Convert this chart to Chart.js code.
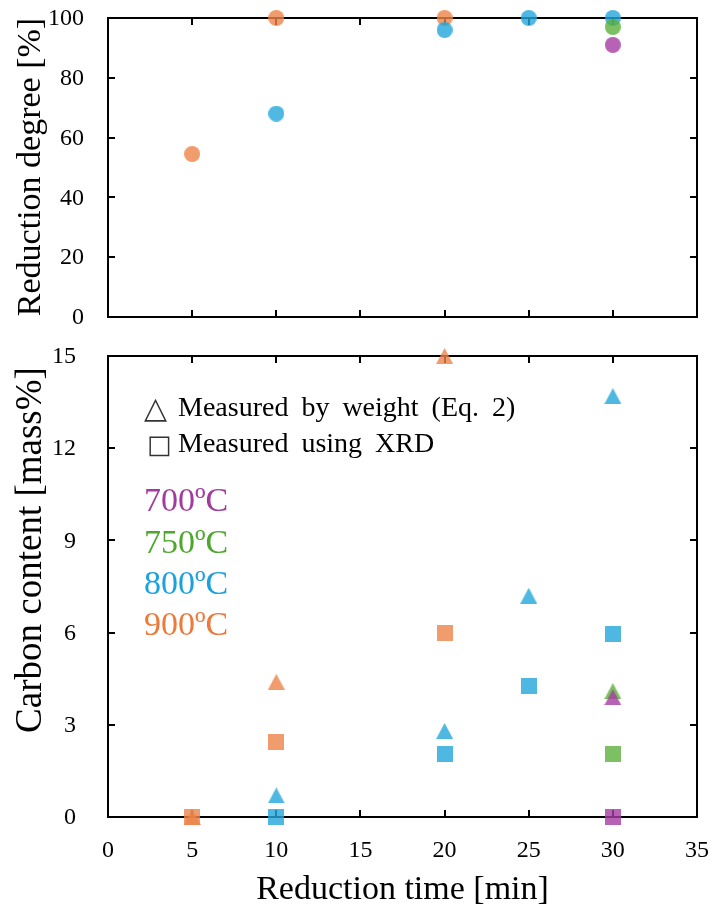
<!DOCTYPE html>
<html>
<head>
<meta charset="utf-8">
<script src="https://cdn.jsdelivr.net/npm/chart.js@4/dist/chart.umd.min.js"></script>
<style>
  html, body { margin: 0; padding: 0; background: #fff; }
  #wrap { position: relative; width: 711px; height: 911px; overflow: hidden; }
  canvas { position: absolute; left: 0; }
  #degreeChart { top: 0; }
  #carbonChart { top: 335px; }
</style>
</head>
<body>
<div id="wrap">
  <canvas id="degreeChart" width="711" height="335" style="width:711px;height:335px"></canvas>
  <canvas id="carbonChart" width="711" height="576" style="width:711px;height:576px"></canvas>
</div>
<script>
// ---- data ----
const temperatureLabels = ['700ºC', '750ºC', '800ºC', '900ºC'];

// reduction degree [%]
const degreeTime700 = [30];
const degree700 = [91];
const degreeTime750 = [30];
const degree750 = [97];
const degreeTime800 = [10, 20, 25, 30];
const degree800 = [68, 96, 100, 100];
const degreeTime900 = [5, 10, 20];
const degree900 = [54.5, 100, 100];

// carbon content measured by weight (Eq. 2) [mass%]
const weightTime700 = [30];
const weight700 = [3.9];
const weightTime750 = [30];
const weight750 = [4.1];
const weightTime800 = [10, 20, 25, 30];
const weight800 = [0.7, 2.8, 7.2, 13.7];
const weightTime900 = [5, 10, 20];
const weight900 = [0, 4.4, 15.0];

// carbon content measured using XRD [mass%]
const xrdTime700 = [30];
const xrd700 = [0];
const xrdTime750 = [30];
const xrd750 = [2.05];
const xrdTime800 = [10, 20, 25, 30];
const xrd800 = [0, 2.05, 4.25, 5.95];
const xrdTime900 = [5, 10, 20];
const xrd900 = [0, 2.45, 6.0];

// axis ticks
const timeTicks = [0, 5, 10, 15, 20, 25, 30, 35];
const degreeTicks = [0, 20, 40, 60, 80, 100];
const carbonTicks = [0, 3, 6, 9, 12, 15];

// ---- styles ----
const markerColors = ['rgba(166,59,163,0.8)', 'rgba(91,176,60,0.8)', 'rgba(35,166,219,0.8)', 'rgba(236,131,71,0.8)'];
const textColors = ['#A23AA0', '#4EA72E', '#1BA1DB', '#EC7A3A'];
const SERIF = '"Liberation Serif", "Times New Roman", serif';

function pts(xs, ys) { return xs.map((x, i) => ({ x, y: ys[i] })); }

function marker(shape, color, w, h) {
  const c = document.createElement('canvas');
  c.width = w; c.height = h;
  const g = c.getContext('2d');
  g.fillStyle = color;
  g.beginPath();
  if (shape === 'circle') {
    g.ellipse(w / 2, h / 2, w / 2, h / 2, 0, 0, Math.PI * 2);
  } else if (shape === 'square') {
    g.rect(0, 0, w, h);
  } else {
    g.moveTo(w / 2, 0); g.lineTo(w, h); g.lineTo(0, h); g.closePath();
  }
  g.fill();
  return c;
}

function series(data, shape, colorIdx) {
  const size = shape === 'triangle' ? [17, 16] : [16, 16];
  return {
    data,
    pointStyle: marker(shape, markerColors[colorIdx], size[0], size[1]),
    pointRadius: 8,
    pointHoverRadius: 8,
    showLine: false,
    clip: false
  };
}

// frame with inward ticks, tick labels and axis titles
function axesPlugin(cfg) {
  return {
    id: 'axesFrame',
    beforeDatasetsDraw(chart) {
      const { ctx, chartArea: a, scales: { x, y } } = chart;
      ctx.save();
      ctx.strokeStyle = '#000';
      ctx.lineWidth = 2;
      ctx.strokeRect(a.left, a.top, a.right - a.left, a.bottom - a.top);
      ctx.beginPath();
      timeTicks.forEach(v => {
        if (v <= x.min || v >= x.max) return;
        const px = Math.round(x.getPixelForValue(v));
        ctx.moveTo(px, a.top); ctx.lineTo(px, a.top + 7);
        ctx.moveTo(px, a.bottom); ctx.lineTo(px, a.bottom - 7);
      });
      cfg.yTicks.forEach(v => {
        if (v <= y.min || v >= y.max) return;
        const py = Math.round(y.getPixelForValue(v));
        ctx.moveTo(a.left, py); ctx.lineTo(a.left + 7, py);
        ctx.moveTo(a.right, py); ctx.lineTo(a.right - 7, py);
      });
      ctx.stroke();

      ctx.fillStyle = '#000';
      ctx.font = '24px ' + SERIF;
      ctx.textAlign = 'right';
      ctx.textBaseline = 'middle';
      cfg.yTicks.forEach(v => ctx.fillText(String(v), cfg.yLabelRight, y.getPixelForValue(v) + 1));

      if (cfg.xLabels) {
        ctx.textAlign = 'center';
        ctx.textBaseline = 'alphabetic';
        timeTicks.forEach(v => ctx.fillText(String(v), x.getPixelForValue(v), cfg.xLabelBaseline));
        ctx.font = '34px ' + SERIF;
        ctx.fillText('Reduction time [min]', (a.left + a.right) / 2, cfg.xTitleBaseline);
      }

      ctx.save();
      ctx.translate(cfg.yTitleX, cfg.yTitleY);
      ctx.rotate(-Math.PI / 2);
      ctx.textAlign = 'center';
      ctx.textBaseline = 'middle';
      ctx.font = cfg.yTitleSize + 'px ' + SERIF;
      ctx.fillText(cfg.yTitle, 0, 0);
      ctx.restore();
      ctx.restore();
    }
  };
}

// marker-shape key and temperature colour key inside the carbon panel
const keyPlugin = {
  id: 'keyText',
  afterDatasetsDraw(chart) {
    const { ctx } = chart;
    ctx.save();
    ctx.textBaseline = 'alphabetic';
    ctx.textAlign = 'left';
    ctx.font = '30px "DejaVu Sans"';
    ctx.fillStyle = '#333';
    ctx.fillText('△', 144, 418 - 335);
    ctx.font = '26px "DejaVu Sans"';
    ctx.fillText('□', 147, 453 - 335);
    ctx.fillStyle = '#000';
    ctx.font = '28px ' + SERIF;
    if ('wordSpacing' in ctx) ctx.wordSpacing = '6px';
    ctx.fillText('Measured by weight (Eq. 2)', 178, 416 - 335);
    ctx.fillText('Measured using XRD', 178, 452 - 335);
    if ('wordSpacing' in ctx) ctx.wordSpacing = '0px';
    ctx.font = '34px ' + SERIF;
    const baselines = [511, 553, 594, 635];
    temperatureLabels.forEach((t, i) => {
      ctx.fillStyle = textColors[i];
      ctx.fillText(t, 144, baselines[i] - 335);
    });
    ctx.restore();
  }
};

Chart.defaults.animation = false;
Chart.defaults.responsive = false;

new Chart(document.getElementById('degreeChart'), {
  type: 'scatter',
  data: {
    datasets: [
      series(pts(degreeTime700, degree700), 'circle', 0),
      series(pts(degreeTime750, degree750), 'circle', 1),
      series(pts(degreeTime800, degree800), 'circle', 2),
      series(pts(degreeTime900, degree900), 'circle', 3)
    ]
  },
  options: {
    layout: { padding: { left: 108, right: 14, top: 18, bottom: 18 } },
    plugins: { legend: { display: false }, tooltip: { enabled: false } },
    scales: {
      x: { type: 'linear', display: false, min: 0, max: 35 },
      y: { type: 'linear', display: false, min: 0, max: 100 }
    }
  },
  plugins: [axesPlugin({
    yTicks: degreeTicks, yLabelRight: 84, xLabels: false,
    yTitle: 'Reduction degree [%]', yTitleX: 31, yTitleY: 167, yTitleSize: 34
  })]
});

new Chart(document.getElementById('carbonChart'), {
  type: 'scatter',
  data: {
    datasets: [
      series(pts(weightTime700, weight700), 'triangle', 0),
      series(pts(weightTime750, weight750), 'triangle', 1),
      series(pts(weightTime800, weight800), 'triangle', 2),
      series(pts(weightTime900, weight900), 'triangle', 3),
      series(pts(xrdTime700, xrd700), 'square', 0),
      series(pts(xrdTime750, xrd750), 'square', 1),
      series(pts(xrdTime800, xrd800), 'square', 2),
      series(pts(xrdTime900, xrd900), 'square', 3)
    ]
  },
  options: {
    layout: { padding: { left: 108, right: 14, top: 21, bottom: 94 } },
    plugins: { legend: { display: false }, tooltip: { enabled: false } },
    scales: {
      x: { type: 'linear', display: false, min: 0, max: 35 },
      y: { type: 'linear', display: false, min: 0, max: 15 }
    }
  },
  plugins: [axesPlugin({
    yTicks: carbonTicks, yLabelRight: 76, xLabels: true,
    xLabelBaseline: 857 - 335, xTitleBaseline: 899 - 335,
    yTitle: 'Carbon content [mass%]', yTitleX: 31, yTitleY: 550 - 335, yTitleSize: 37
  }), keyPlugin]
});
</script>
</body>
</html>
